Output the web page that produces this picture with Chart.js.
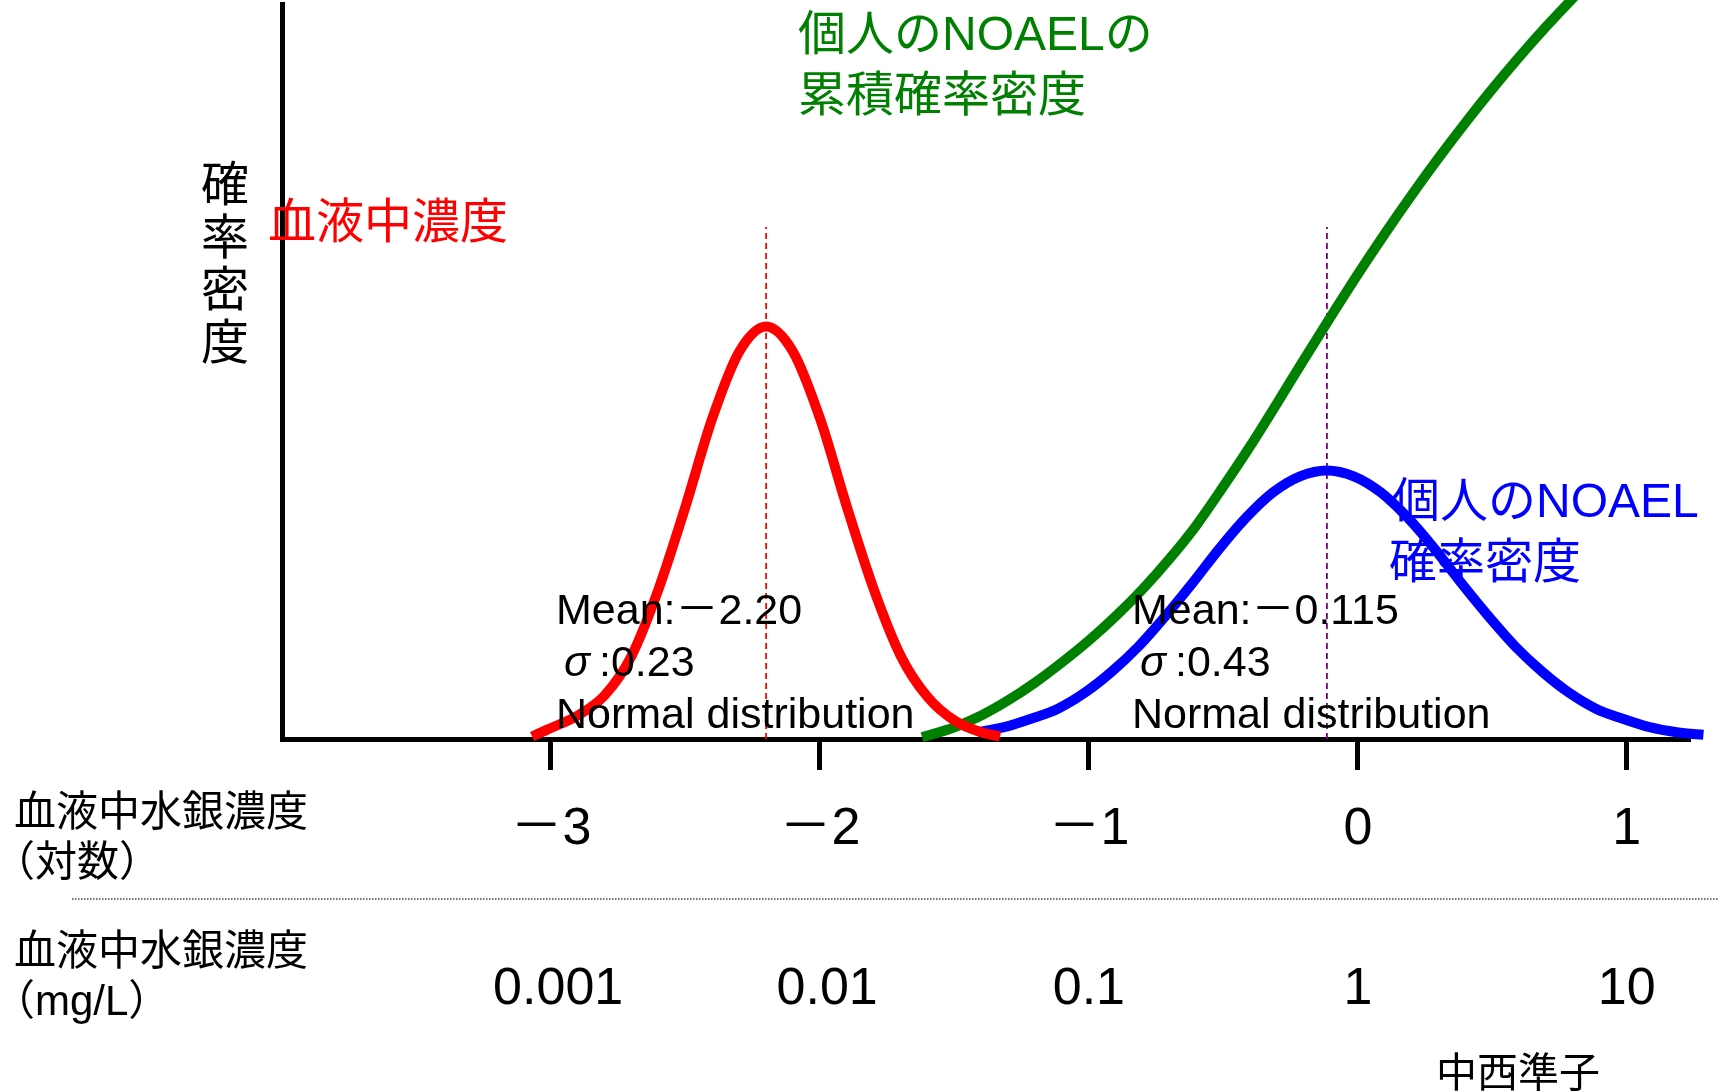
<!DOCTYPE html>
<html>
<head>
<meta charset="utf-8">
<script src="https://cdn.jsdelivr.net/npm/chart.js@4.4.1/dist/chart.umd.min.js"></script>
<style>
  html, body { margin: 0; padding: 0; background: #ffffff; }
  #wrap { width: 1736px; height: 1092px; position: relative; }
</style>
</head>
<body>
<div id="wrap"><canvas id="chart" width="1736" height="1092"></canvas></div>
<script>
// Blood mercury concentration (log10 mg/L) and its density
const bloodLogConc = [-3.07, -3.0, -2.9, -2.8, -2.7, -2.6, -2.5, -2.4, -2.3, -2.2, -2.1, -2.0, -1.9, -1.8, -1.7, -1.6, -1.5, -1.4, -1.33];
const bloodDensity = [0.003, 0.013, 0.028, 0.052, 0.099, 0.178, 0.276, 0.381, 0.460, 0.490, 0.460, 0.381, 0.276, 0.178, 0.099, 0.050, 0.022, 0.008, 0.003];

// Individual NOAEL (log10 mg/L) density
const noaelLogConc = [-1.415, -1.315, -1.215, -1.115, -1.015, -0.915, -0.815, -0.715, -0.615, -0.515, -0.415, -0.315, -0.215, -0.115, -0.015, 0.085, 0.185, 0.285, 0.385, 0.485, 0.585, 0.685, 0.785, 0.885, 0.985, 1.085, 1.185, 1.285, 1.385];
const noaelDensity = [0.008, 0.014, 0.024, 0.036, 0.055, 0.080, 0.110, 0.146, 0.185, 0.226, 0.263, 0.293, 0.312, 0.319, 0.312, 0.293, 0.263, 0.226, 0.185, 0.146, 0.110, 0.080, 0.055, 0.036, 0.024, 0.014, 0.008, 0.005, 0.0025];

// Individual NOAEL cumulative curve
const noaelCumLogConc = [-1.62, -1.5, -1.4, -1.3, -1.2, -1.1, -1.0, -0.9, -0.8, -0.7, -0.6, -0.5, -0.4, -0.3, -0.2, -0.1, 0.0, 0.1, 0.2, 0.3, 0.4, 0.5, 0.6, 0.7, 0.8, 0.9];
const noaelCumulative = [0.002, 0.014, 0.028, 0.046, 0.067, 0.091, 0.117, 0.146, 0.178, 0.214, 0.254, 0.300, 0.348, 0.399, 0.451, 0.502, 0.552, 0.600, 0.646, 0.690, 0.732, 0.772, 0.810, 0.846, 0.880, 0.913];

// Means of the two distributions and height of their marker lines
const bloodMean = -2.20;
const noaelMean = -0.115;
const meanLineTop = 0.608;

// Axis ticks and their two label rows
const tickValues = [-3, -2, -1, 0, 1];
const tickLabelsLog = ['－3', '－2', '－1', '0', '1'];
const tickLabelsMgL = [' 0.001', ' 0.01', '0.1', '1', '10'];

const pts = (xs, ys) => xs.map((x, i) => ({ x: x, y: ys[i] }));

const LATIN = '"Liberation Sans", "Noto Sans CJK JP", sans-serif';

// Free text: titles, series labels, annotations, row captions
const textPlugin = {
  id: 'freeText',
  afterDraw(chart) {
    const ctx = chart.ctx;
    ctx.save();
    ctx.textBaseline = 'middle';

    // vertical y-axis title
    ctx.fillStyle = '#000000';
    ctx.font = '48px ' + LATIN;
    ctx.textAlign = 'center';
    const yTitle = ['確', '率', '密', '度'];
    const yTitleRows = [188, 240.5, 293, 346];
    yTitle.forEach((ch, i) => ctx.fillText(ch, 225, yTitleRows[i]));

    ctx.textAlign = 'left';
    // series labels
    ctx.fillStyle = '#ff0000';
    ctx.fillText('血液中濃度', 268, 225);
    ctx.fillStyle = '#008000';
    ctx.fillText('個人のNOAELの', 798, 37);
    ctx.fillText('累積確率密度', 798, 98);
    ctx.fillStyle = '#0000ff';
    ctx.fillText('個人のNOAEL', 1392, 504);
    ctx.fillText('確率密度', 1389, 565);

    // distribution annotations
    ctx.fillStyle = '#000000';
    ctx.textBaseline = 'alphabetic';
    const notes = [
      { x: 556, mean: 'Mean:－2.20', sd: ':0.23' },
      { x: 1132, mean: 'Mean:－0.115', sd: ':0.43' }
    ];
    notes.forEach(n => {
      ctx.font = '43px ' + LATIN;
      ctx.fillText(n.mean, n.x, 624);
      ctx.fillText(n.sd, n.x + 43, 676);
      ctx.fillText('Normal distribution', n.x, 728);
      ctx.font = 'italic 43px ' + LATIN;
      ctx.fillText('σ', n.x + 8, 676);
    });

    // row captions for the two label rows
    ctx.textBaseline = 'middle';
    ctx.font = '42px ' + LATIN;
    ctx.fillText('血液中水銀濃度', 14, 814);
    ctx.fillText('（対数）', -7, 864);
    ctx.fillText('血液中水銀濃度', 14, 953);
    ctx.fillText('（mg/L）', -7, 1003);

    // dotted separator between label rows
    ctx.strokeStyle = '#444444';
    ctx.lineWidth = 1.3;
    ctx.setLineDash([1.5, 1.5]);
    ctx.beginPath();
    ctx.moveTo(72, 899);
    ctx.lineTo(1718, 899);
    ctx.stroke();
    ctx.setLineDash([]);

    // author credit
    ctx.font = '41px ' + LATIN;
    ctx.fillText('中西準子', 1436, 1076);
    ctx.restore();
  }
};

const curve = (data, color, order) => ({
  data: data,
  showLine: true,
  borderColor: color,
  backgroundColor: color,
  borderWidth: 10,
  pointRadius: 0,
  cubicInterpolationMode: 'monotone',
  borderJoinStyle: 'round',
  clip: false,
  order: order
});

const meanLine = (x, color) => ({
  data: [{ x: x, y: 0 }, { x: x, y: meanLineTop }],
  showLine: true,
  borderColor: color,
  borderWidth: 1.8,
  borderDash: [6, 4],
  pointRadius: 0,
  clip: false,
  order: 5
});

new Chart(document.getElementById('chart'), {
  type: 'scatter',
  data: {
    datasets: [
      curve(pts(bloodLogConc, bloodDensity), '#ff0000', 0),
      curve(pts(noaelLogConc, noaelDensity), '#0000ff', 1),
      curve(pts(noaelCumLogConc, noaelCumulative), '#008000', 2),
      meanLine(bloodMean, '#ff0000'),
      meanLine(noaelMean, '#800080')
    ]
  },
  options: {
    responsive: false,
    animation: false,
    devicePixelRatio: 1,
    layout: { padding: { left: 0, right: 46, top: 4, bottom: 0 } },
    plugins: { legend: { display: false }, tooltip: { enabled: false } },
    scales: {
      x: {
        type: 'linear',
        position: 'bottom',
        min: -4,
        max: 1.235,
        afterBuildTicks: s => { s.ticks = tickValues.map(v => ({ value: v })); },
        afterFit: s => { s.height = 353; },
        grid: { display: true, drawOnChartArea: false, drawTicks: true, tickLength: 31, tickWidth: 5, tickColor: '#000000' },
        border: { display: true, width: 5, color: '#000000' },
        ticks: {
          autoSkip: false,
          maxRotation: 0,
          minRotation: 0,
          padding: 20,
          color: '#000000',
          font: { family: LATIN, size: 52, lineHeight: '80px' },
          callback: (v, i) => [tickLabelsLog[i], '', tickLabelsMgL[i]]
        }
      },
      y: {
        type: 'linear',
        min: 0,
        max: 0.873,
        afterFit: s => { s.width = 282; },
        grid: { display: false },
        ticks: { display: false },
        border: { display: true, width: 5, color: '#000000' }
      }
    }
  },
  plugins: [textPlugin]
});
</script>
</body>
</html>
